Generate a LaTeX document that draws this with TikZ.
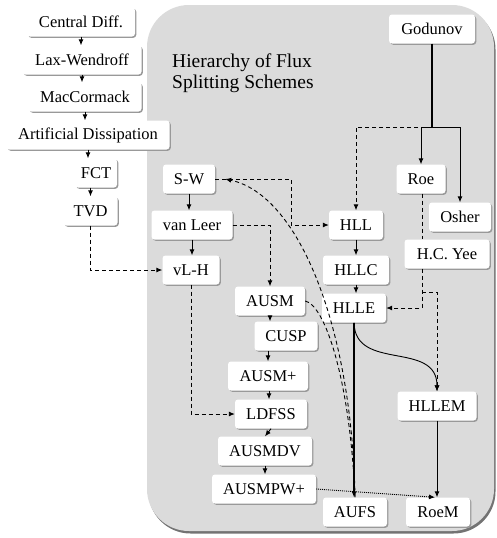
\documentclass[tikz,border=0pt]{standalone}
\usepackage{fontspec}
\setmainfont{Liberation Serif}
\usetikzlibrary{shadows,arrows.meta,calc}
\begin{document}
\begin{tikzpicture}[x=1pt,y=-1pt,
  box/.style={fill=white, rounded corners=3pt, minimum height=29pt, inner sep=0pt,
    font=\fontsize{16.5}{19}\selectfont,
    drop shadow={shadow xshift=1.3pt, shadow yshift=-1.3pt, fill=black!40, opacity=1}},
  arr/.style={-{Latex[length=6pt,width=5pt]}, line width=0.9pt},
  dsh/.style={dash pattern=on 4pt off 3pt},
  dot/.style={dash pattern=on 1pt off 1pt}]
\useasboundingbox (0,0) rectangle (496,538);
% background panel
\path[fill=black!14, rounded corners=42pt,
  drop shadow={shadow xshift=1.5pt, shadow yshift=-2.5pt, fill=black!55, opacity=1}]
  (147,5) rectangle (494,531);
% title
\node[anchor=west, align=left, font=\fontsize{19.5}{21.5}\selectfont, inner sep=0pt]
  (title) at (172,73) {Hierarchy of Flux\\Splitting Schemes};
% left column
\node[box, minimum width=108pt] (cd) at (81,22) {Central Diff.};
\node[box, minimum width=119pt] (lw) at (82,60) {Lax-Wendroff};
\node[box, minimum width=113pt] (mc) at (85,97) {MacCormack};
\node[box, minimum width=163pt] (ad) at (88,135) {Artificial Dissipation};
\node[box, minimum width=42pt] (fct) at (96,173) {FCT};
\node[box, minimum width=54pt] (tvd) at (90.5,211) {TVD};
% inside panel
\node[box, minimum width=52pt] (sw) at (189,179) {S-W};
\node[box, minimum width=81pt] (vl) at (192,225) {van Leer};
\node[box, minimum width=57pt] (vlh) at (191,270) {vL-H};
\node[box, minimum width=70pt] (ausm) at (270,301) {AUSM};
\node[box, minimum width=63pt] (cusp) at (286,336) {CUSP};
\node[box, minimum width=80pt] (ausmp) at (268,376) {AUSM+};
\node[box, minimum width=72pt] (ldfss) at (271,414) {LDFSS};
\node[box, minimum width=94pt] (ausmdv) at (265,451) {AUSMDV};
\node[box, minimum width=104pt] (ausmpw) at (264,489) {AUSMPW+};
\node[box, minimum width=64pt] (aufs) at (355,512) {AUFS};
\node[box, minimum width=64pt] (roem) at (438,512) {RoeM};
\node[box, minimum width=79pt] (hllem) at (437,406) {HLLEM};
\node[box, minimum width=64pt] (hlle) at (354,308) {HLLE};
\node[box, minimum width=66pt] (hllc) at (356,270) {HLLC};
\node[box, minimum width=54pt] (hll) at (356,225) {HLL};
\node[box, minimum width=62pt] (osher) at (460,217) {Osher};
\node[box, minimum width=85pt] (hcyee) at (447,254) {H.C. Yee};
\node[box, minimum width=49pt] (roe) at (421,179) {Roe};
\node[box, minimum width=86pt] (god) at (432,29) {Godunov};
% junction points
\coordinate (gj) at (432,127);
\coordinate (swk) at (291,179);
\coordinate (yj) at (422,292);
\coordinate (lx) at (269,0);
% left column arrows
\draw[arr] (cd.south) -- (cd.south |- lw.north);
\draw[arr] (lw.south) -- (lw.south |- mc.north);
\draw[arr] (mc.south) -- (mc.south |- ad.north);
\draw[arr] (ad.south) -- (ad.south |- fct.north);
\draw[arr] (tvd.north |- fct.south) -- (tvd.north);
\draw[arr, dsh] (tvd.south) |- (vlh.west);
% AUSM family
\draw[arr] (sw.south) -- (sw.south |- vl.north);
\draw[arr] (vl.south) -- (vl.south |- vlh.north);
\draw[arr, dsh] (vl.east) -| (ausm.north);
\draw[arr, dsh] (sw.east) -- (swk) |- (hll.west);
\draw[arr, dsh] (vlh.south) |- (ldfss.west);
\draw[arr] (ausm.south) -- (ausm.south |- cusp.north);
\draw[arr] (ausmp.north |- cusp.south) -- (ausmp.north);
\draw[arr] (lx |- ausmp.south) -- (lx |- ldfss.north);
\draw[arr] (ldfss.south) -- (ausmdv.north);
\draw[arr] (ausmdv.south) -- (ausmdv.south |- ausmpw.north);
% Godunov family
\draw[line width=1.6pt] (god.south) -- (gj);
\draw[line width=1pt] (gj -| roe.north) -- (gj -| osher.north);
\draw[arr] (gj -| roe.north) -- (roe.north);
\draw[arr] (gj -| osher.north) -- (osher.north);
\draw[arr, dsh] (gj) -| (hll.north);
\draw[arr] (hll.south) -- (hll.south |- hllc.north);
\draw[arr] (hllc.south) -- (hllc.south |- hlle.north);
\draw[dsh, line width=0.9pt] (roe.south -| yj) -- (hcyee.north -| yj);
\draw[arr, dsh] (hcyee.south -| yj) |- (hlle.east);
\draw[arr, dsh] (yj) -| (hllem.north);
\draw[arr, line width=1.3pt] (hlle.south) -- (hlle.south |- aufs.north);
\draw[arr] (hlle.south) .. controls (355,372) and (437,340) .. (hllem.north);
\draw[arr] (hllem.south) -- (hllem.south |- roem.north);
% long dashed curves
\draw[arr, dsh] (aufs.north) .. controls (352,330) and (300,195) .. ([xshift=10pt]sw.east);
\draw[dsh, line width=0.9pt] (ausm.east) .. controls (325,305) and (350,380) .. (aufs.north);
% dotted link
\draw[arr, dot] (ausmpw.east) -- ([xshift=-3pt]roem.north);
\end{tikzpicture}
\end{document}
